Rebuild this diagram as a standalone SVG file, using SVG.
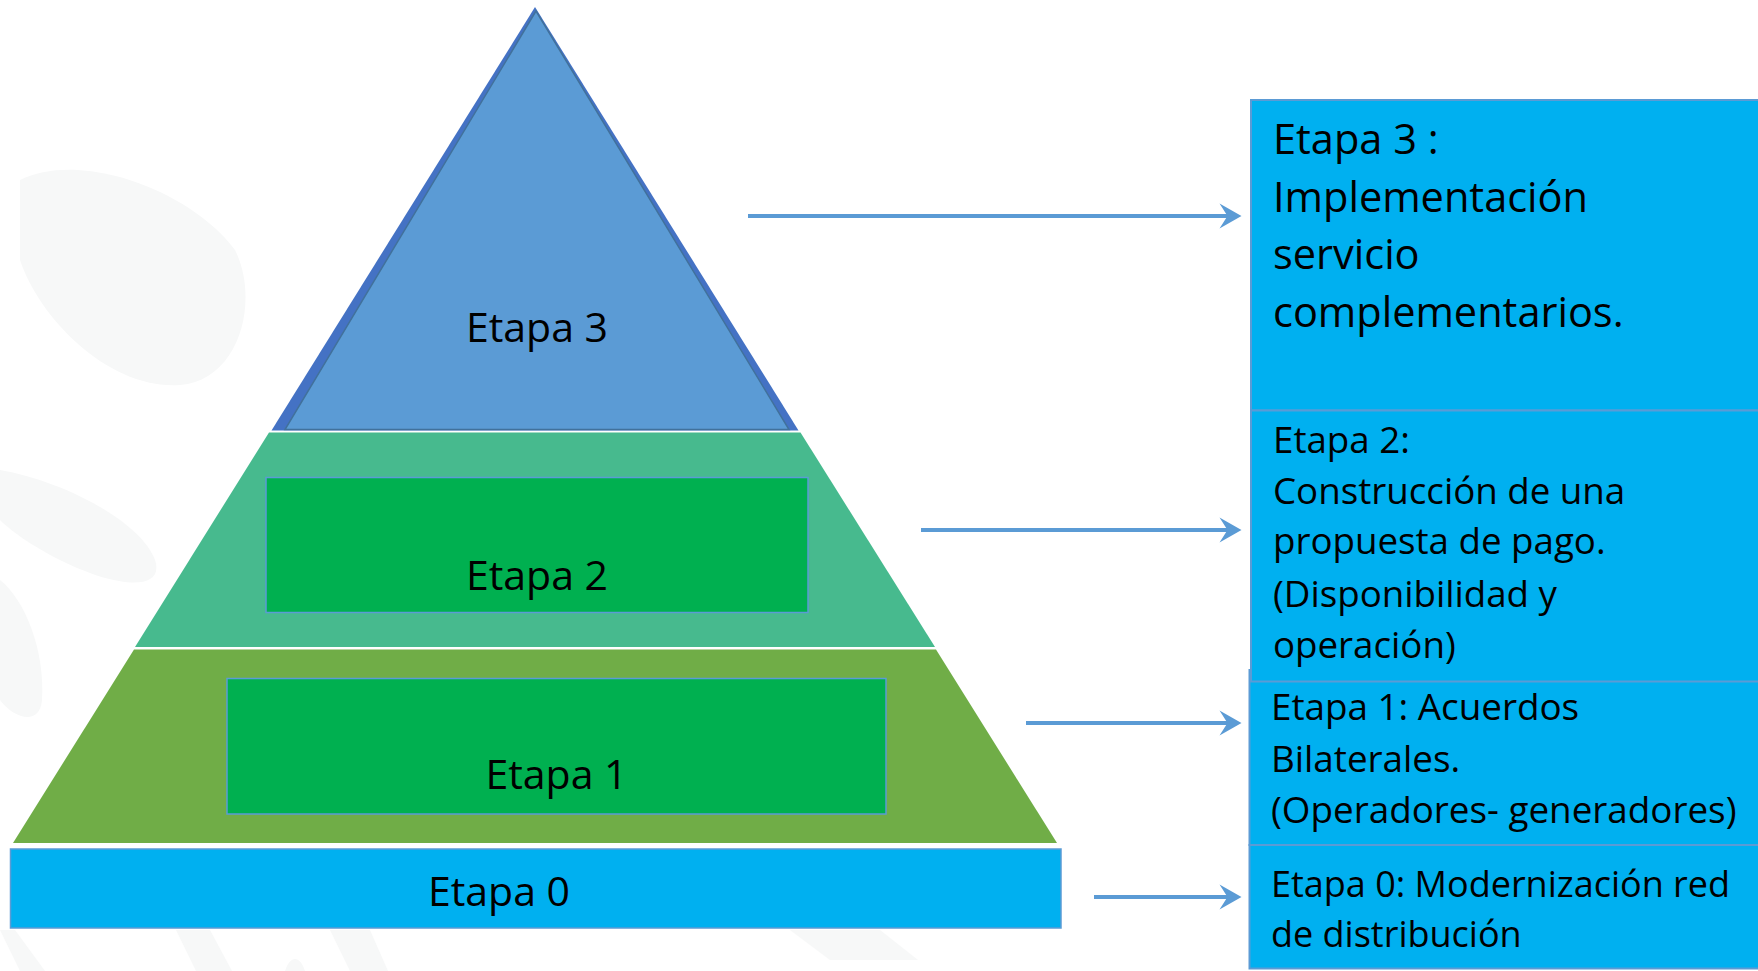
<svg xmlns="http://www.w3.org/2000/svg" width="1758" height="971" viewBox="0 0 1758 971">
  <defs>
    <style>
      .lbl { font-family: "Open Sans", "Noto Sans", sans-serif; fill: #000000; }
      .pyr { font-size: 41px; text-anchor: middle; }
      .box { fill: #00B0F0; stroke: #5B9BD5; stroke-width: 2; }
      .inner { fill: #00B050; stroke: #5B9BD5; stroke-width: 1.5; }
      .conn { stroke: #5B9BD5; stroke-width: 4; fill: none; marker-end: url(#head); }
      .mark { fill: #F7F8F8; }
    </style>
    <marker id="head" markerUnits="userSpaceOnUse" markerWidth="30" markerHeight="30" refX="0" refY="0" orient="auto" overflow="visible">
      <path d="M10,0 L-12,-12.5 L-4,0 L-12,12.5 Z" fill="#5B9BD5"/>
    </marker>
  </defs>

  <!-- page background with faint decorative swooshes -->
  <rect x="0" y="0" width="1758" height="971" fill="#FFFFFF"/>
  <g id="backdrop">
    <path class="mark" d="M20,180 C80,150 190,190 235,250 C260,300 240,380 180,385 C110,390 40,320 20,260 Z"/>
    <path class="mark" d="M0,470 C60,480 140,520 155,560 C165,590 120,590 60,560 C30,545 10,530 0,520 Z"/>
    <path class="mark" d="M0,580 C25,600 45,650 42,700 C40,725 15,720 0,700 Z"/>
    <path class="mark" d="M0,930 L15,930 L45,971 L20,971 Z"/>
    <path class="mark" d="M176,930 L210,930 L232,971 L196,971 Z"/>
    <path class="mark" d="M330,930 L370,930 L388,971 L350,971 Z"/>
    <path class="mark" d="M285,971 C290,955 300,955 305,971 Z"/>
    <path class="mark" d="M790,930 L880,930 L918,960 L830,960 Z"/>
  </g>

  <!-- Etapa 0: base bar -->
  <g id="etapa0">
    <rect x="10.5" y="849" width="1050.5" height="79" fill="#00B0F0" stroke="#5B9BD5" stroke-width="1.5"/>
    <text class="lbl pyr" x="499" y="906">Etapa 0</text>
  </g>

  <!-- Etapa 1: lower trapezoid -->
  <g id="etapa1">
    <polygon points="134,649.5 936,649.5 1057,843 13,843" fill="#70AD47"/>
    <rect class="inner" x="227" y="678.5" width="659" height="135.5"/>
    <text class="lbl pyr" x="556.5" y="789">Etapa 1</text>
  </g>

  <!-- Etapa 2: middle trapezoid -->
  <g id="etapa2">
    <polygon points="269,432.5 800.5,432.5 935,647 135,647" fill="#47BA8E"/>
    <rect class="inner" x="266" y="477.5" width="542" height="135"/>
    <text class="lbl pyr" x="537" y="590">Etapa 2</text>
  </g>

  <!-- Etapa 3: apex triangle -->
  <g id="etapa3">
    <polygon points="535,7 271.5,430.5 798.5,430.5" fill="#4472C4"/>
    <polygon points="536,11 285,429.5 789,429.5" fill="#5B9BD5" stroke="#41719C" stroke-width="1.5"/>
    <text class="lbl pyr" x="537" y="342">Etapa 3</text>
  </g>

  <!-- description boxes on the right -->
  <g id="desc1">
    <rect class="box" x="1249.5" y="670" width="520" height="175"/>
  </g>
  <g id="desc3">
    <rect class="box" x="1251" y="100" width="520" height="310.5"/>
    <text class="lbl" font-size="41.5" x="1273">
      <tspan x="1273" y="154">Etapa 3 :</tspan>
      <tspan x="1273" y="211.5">Implementación</tspan>
      <tspan x="1273" y="269">servicio</tspan>
      <tspan x="1273" y="326.5">complementarios.</tspan>
    </text>
  </g>
  <g id="desc2">
    <rect class="box" x="1251" y="410.5" width="520" height="271"/>
    <text class="lbl" font-size="36.7" x="1273">
      <tspan x="1273" y="453">Etapa 2:</tspan>
      <tspan x="1273" y="504">Construcción de una</tspan>
      <tspan x="1273" y="553.5">propuesta de pago.</tspan>
      <tspan x="1273" y="606.5">(Disponibilidad y</tspan>
      <tspan x="1273" y="658">operación)</tspan>
    </text>
  </g>
  <g id="desc1-text">
    <text class="lbl" font-size="36.8" x="1271">
      <tspan x="1271" y="720">Etapa 1: Acuerdos</tspan>
      <tspan x="1271" y="771.5">Bilaterales.</tspan>
      <tspan x="1271" y="822.5">(Operadores- generadores)</tspan>
    </text>
  </g>
  <g id="desc0">
    <rect class="box" x="1249.5" y="845" width="520" height="123.5"/>
    <text class="lbl" font-size="36" x="1271">
      <tspan x="1271" y="896.5">Etapa 0: Modernización red</tspan>
      <tspan x="1271" y="946.5">de distribución</tspan>
    </text>
  </g>

  <!-- connectors from each level to its description -->
  <g id="connectors">
    <line class="conn" x1="748" y1="216" x2="1231.5" y2="216"/>
    <line class="conn" x1="921" y1="530" x2="1231.5" y2="530"/>
    <line class="conn" x1="1026" y1="723" x2="1231.5" y2="723"/>
    <line class="conn" x1="1094" y1="897" x2="1231.5" y2="897"/>
  </g>
</svg>
